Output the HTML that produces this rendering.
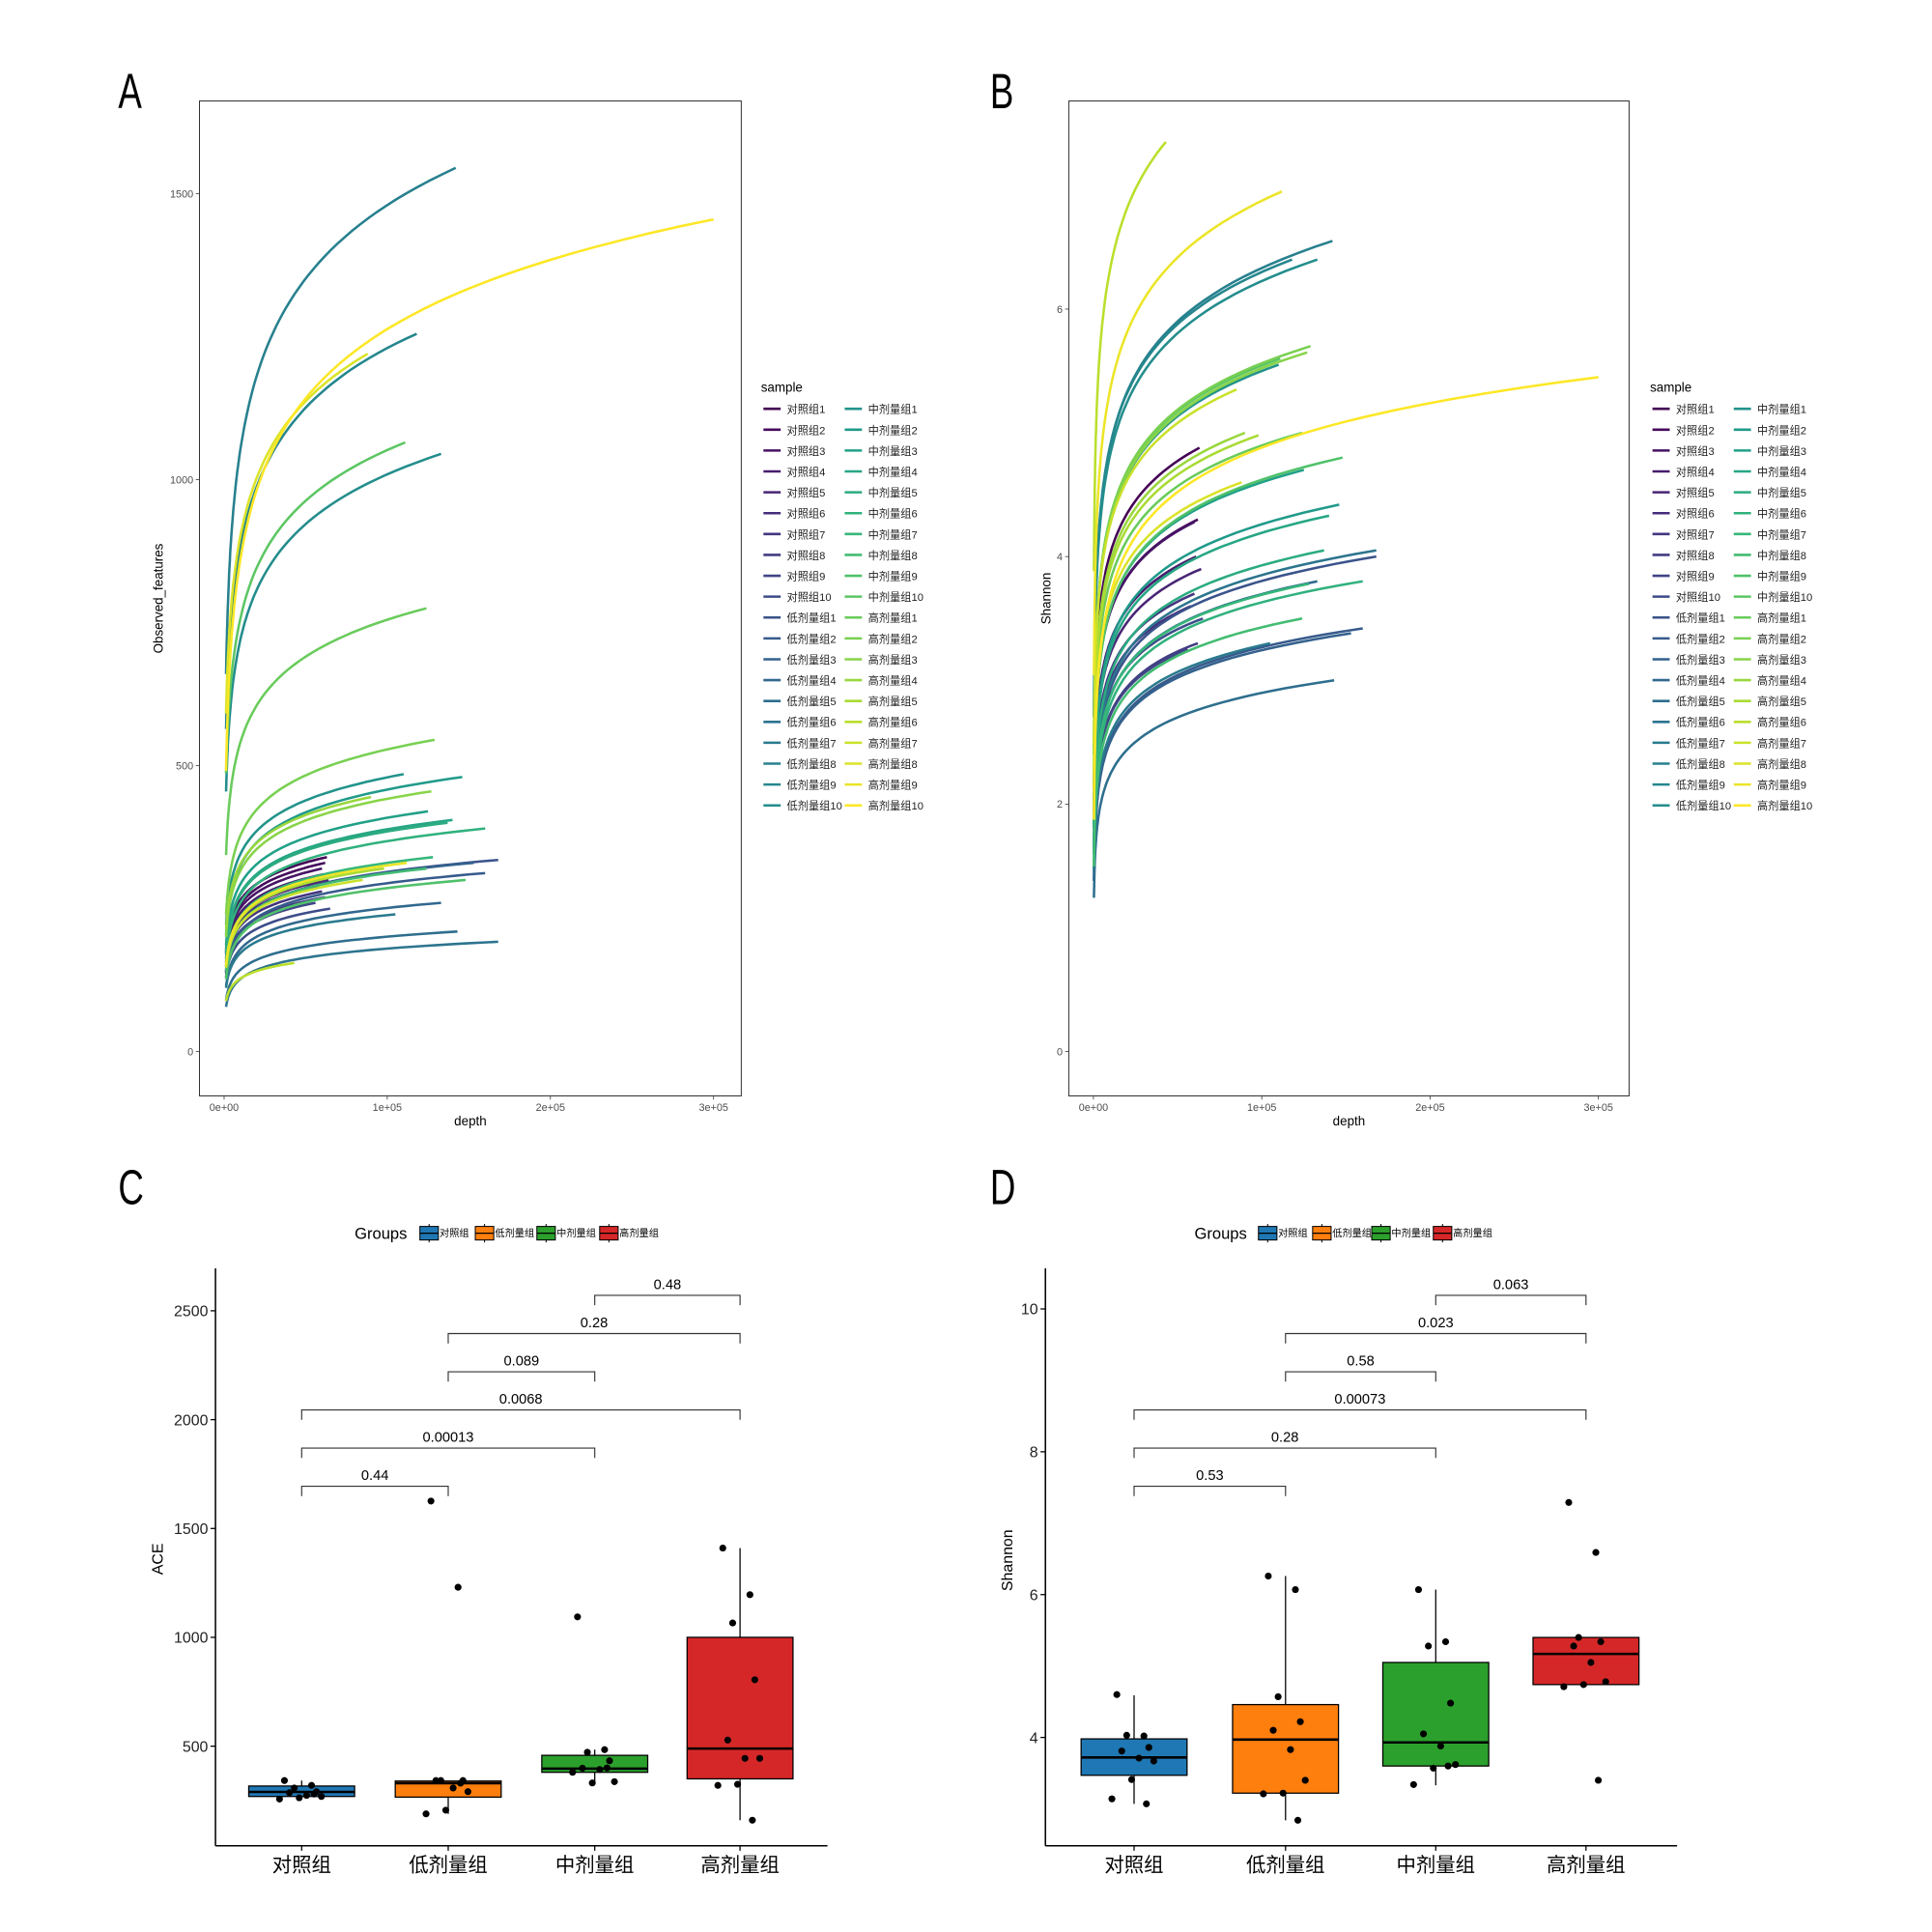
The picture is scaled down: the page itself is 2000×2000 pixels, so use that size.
<!DOCTYPE html>
<html><head><meta charset="utf-8"><style>
html,body{margin:0;padding:0;background:#fff;}
svg{display:block;font-family:"Liberation Sans","Noto Sans CJK SC",sans-serif;}
</style></head><body>
<svg id="fig" width="2000" height="2000" viewBox="0 0 1569 1569" xmlns="http://www.w3.org/2000/svg">
<rect width="1569" height="1569" fill="#fff"/>
<g id="A"></g>
<g id="B"></g>
<g id="C"></g>
<g id="D"></g>
</svg>
<script>
// ---- rarefaction data (40 samples) ----
const groupNames = ["对照组","低剂量组","中剂量组","高剂量组"];
const sampleDepth = [0.63,0.62,0.6,0.61,0.64,0.58,0.6,0.62,0.56,0.65,
  1.68,1.6,1.53,1.33,1.43,1.68,1.05,1.42,1.18,1.33,
  1.1,1.46,1.25,1.4,1.37,1.6,1.28,1.24,1.48,1.11,
  1.24,1.29,1.27,0.9,0.98,0.43,0.85,0.88,1.12,3.0];
const observedEnd = [340,330,320,310,300,290,280,270,260,250,
  335,312,330,260,210,192,240,1545,1255,1045,
  485,480,420,405,400,390,340,320,300,1065,
  775,545,455,445,320,155,300,1220,330,1455];
const shannonEnd = [4.88,4.3,4.28,4.0,3.9,3.6,3.7,3.3,3.25,3.5,
  4.0,3.42,3.38,3.8,3.0,4.05,3.3,6.55,6.4,6.4,
  5.55,4.42,4.7,4.33,4.05,3.8,3.78,3.5,4.8,5.6,
  5.0,5.7,5.65,5.0,4.98,7.35,5.35,4.6,6.95,5.45];
const xTicks = [0,1,2,3];
const xTickLabels = ["0e+00","1e+05","2e+05","3e+05"];
const obsTicks = [0,500,1000,1500];
const shanTicks = [0,2,4,6];
// ---- box plot data ----
const aceCtrl=[342,320,308,291,286,274,269,263,257,280];
const aceLow=[1626,1230,342,342,342,308,291,206,189,330];
const aceMid=[1094,484,472,433,399,393,337,331,380,400];
const aceHigh=[1410,1196,1066,805,528,444,444,325,320,160];
const shCtrl=[4.60,4.02,4.03,3.86,3.81,3.71,3.67,3.41,3.14,3.07];
const shLow=[6.26,6.07,4.57,4.22,4.10,3.83,3.40,3.22,3.21,2.84];
const shMid=[6.07,5.34,5.28,4.48,4.05,3.88,3.62,3.57,3.34,3.6];
const shHigh=[7.29,6.59,5.40,5.34,5.28,5.05,4.78,4.74,4.71,3.40];
const aceBox=[[269,290,317,257,342],[266,330,340,189,342],[380,397,458,331,484],[350,489,1000,160,1410]];
const shBox=[[3.47,3.72,3.98,3.07,4.59],[3.22,3.97,4.46,2.84,6.26],[3.60,3.93,5.05,3.33,6.07],[4.74,5.17,5.40,4.71,5.40]];
const aceTicks=[500,1000,1500,2000,2500];
const shTicks=[4,6,8,10];
const aceP=["0.48","0.28","0.089","0.0068","0.00013","0.44"];
const shP=["0.063","0.023","0.58","0.00073","0.28","0.53"];
const pairs=[[2,3],[1,3],[1,2],[0,3],[0,2],[0,1]];
const boxColors=["#1F78B4","#FF7F0E","#2CA02C","#D62728"];

const NS="http://www.w3.org/2000/svg";
function mk(p,tag,attrs,txt){const e=document.createElementNS(NS,tag);for(const k in attrs)e.setAttribute(k,attrs[k]);if(txt!==undefined)e.textContent=txt;p.appendChild(e);return e;}
const vir=["#440154","#482878","#3E4A89","#31688E","#26828E","#1F9E89","#35B779","#6DCD59","#B4DE2C","#FDE725"];
function hx(c){return [1,3,5].map(i=>parseInt(c.substr(i,2),16));}
function viridis(t){const f=t*9,i=Math.min(8,Math.floor(f)),u=f-i;const a=hx(vir[i]),b=hx(vir[i+1]);return "rgb("+a.map((v,k)=>Math.round(v+(b[k]-v)*u)).join(",")+")";}
function sname(i){return groupNames[Math.floor(i/10)]+(i%10+1);}
function letter(g,x,y,t){const e=mk(g,"text",{x:0,y:0,"font-size":40,transform:`translate(${x},${y}) scale(0.72,1)`},t);
  }

function rarePanel(g,o){
  const {x0,x1,y0,y1,xs,ys,ends,c,d0,ticks,ylab,lx,letterX}=o;
  letter(g,letterX,88,o.letter);
  mk(g,"rect",{x:x0,y:y0,width:x1-x0,height:y1-y0,fill:"none",stroke:"#333","stroke-width":0.8});
  xTicks.forEach((t,i)=>{const x=xs(t);mk(g,"line",{x1:x,x2:x,y1:y1,y2:y1+3,stroke:"#333","stroke-width":0.6});
    const tl=mk(g,"text",{x:x,y:y1+12,"font-size":8.5,fill:"#4d4d4d","text-anchor":"middle"},xTickLabels[i]);
    });
  ticks.forEach(t=>{const y=ys(t);mk(g,"line",{x1:x0-3,x2:x0,y1:y,y2:y,stroke:"#333","stroke-width":0.6});
    const tl=mk(g,"text",{x:x0-5,y:y+3,"font-size":8.5,fill:"#4d4d4d","text-anchor":"end"},t);
    });
  const xt=mk(g,"text",{x:(x0+x1)/2,y:y1+24,"font-size":10.5,"text-anchor":"middle"},"depth");
  
  const yt=mk(g,"text",{x:0,y:0,"font-size":10.5,"text-anchor":"middle",transform:`translate(${o.ylx},${(y0+y1)/2}) rotate(-90)`},ylab);
  
  for(let i=0;i<40;i++){
    const D=sampleDepth[i],E=ends[i];let d="";
    for(let k=0;k<=80;k++){const dep=d0*Math.pow(D/d0,k/80);const v=E*(1-c*Math.log(D/dep));d+=(k?"L":"M")+xs(dep).toFixed(1)+","+ys(v).toFixed(1);}
    const pa=mk(g,"path",{d:d,fill:"none",stroke:viridis(i/39),"stroke-width":2});
    
  }
  const lt=mk(g,"text",{x:lx,y:318,"font-size":10.5},"sample");
  
  for(let i=0;i<40;i++){
    const col=Math.floor(i/20),r=i%20,y=332+r*16.95,bx=lx+2+col*66;
    mk(g,"line",{x1:bx,x2:bx+14,y1:y,y2:y,stroke:viridis(i/39),"stroke-width":2});
    const t=mk(g,"text",{x:bx+19,y:y+3.5,"font-size":8.8,fill:"#222"},sname(i));
    
  }
}
rarePanel(document.getElementById("A"),{letter:"A",letterX:96,x0:162,x1:602,y0:82,y1:890,xs:v=>182+v*132.5,ys:v=>854-v*0.4645,ends:observedEnd,c:0.12,d0:0.012,ticks:obsTicks,ylab:"Observed_features",ylx:132,lx:618});
rarePanel(document.getElementById("B"),{letter:"B",letterX:804,x0:868,x1:1323,y0:82,y1:890,xs:v=>888+v*136.7,ys:v=>854-v*100.5,ends:shannonEnd,c:0.095,d0:0.003,ticks:shanTicks,ylab:"Shannon",ylx:853,lx:1340});

function boxPanel(g,o){
  const {ax,x1,ys,cats,pts,box,ticks,pv,ylab,letterX,legX}=o;
  letter(g,letterX,978,o.letter);
  const lg=mk(g,"text",{x:legX,y:1006,"font-size":13},"Groups");
  
  for(let i=0;i<4;i++){const bx=o.legKeys[i];
    mk(g,"line",{x1:bx+7.5,x2:bx+7.5,y1:994,y2:1009,stroke:"#000","stroke-width":0.8});
    mk(g,"rect",{x:bx,y:996,width:15,height:11,fill:boxColors[i],stroke:"#000","stroke-width":0.8});
    mk(g,"line",{x1:bx,x2:bx+15,y1:1001.5,y2:1001.5,stroke:"#000","stroke-width":1});
    const t=mk(g,"text",{x:bx+16,y:1004,"font-size":8},groupNames[i]);
    }
  mk(g,"line",{x1:ax,x2:ax,y1:1030,y2:1499,stroke:"#000","stroke-width":1.2});
  mk(g,"line",{x1:ax,x2:x1,y1:1499,y2:1499,stroke:"#000","stroke-width":1.2});
  ticks.forEach(t=>{const y=ys(t);mk(g,"line",{x1:ax-4,x2:ax,y1:y,y2:y,stroke:"#000","stroke-width":1});
    const tl=mk(g,"text",{x:ax-6,y:y+4.5,"font-size":12.5,fill:"#222","text-anchor":"end"},t);
    });
  const yt=mk(g,"text",{x:0,y:0,"font-size":12.5,"text-anchor":"middle",transform:`translate(${o.ylx},${ys(o.ylabV)}) rotate(-90)`},ylab);
  
  const jit=[-14,8,-6,12,-10,4,16,-2,-18,10];
  for(let i=0;i<4;i++){
    const cx=cats[i],b=box[i],w=43;
    mk(g,"line",{x1:cx,x2:cx,y1:ys(b[3]),y2:ys(b[0]),stroke:"#000","stroke-width":1});
    mk(g,"line",{x1:cx,x2:cx,y1:ys(b[2]),y2:ys(b[4]),stroke:"#000","stroke-width":1});
    const r=mk(g,"rect",{x:cx-w,y:ys(b[2]),width:2*w,height:ys(b[0])-ys(b[2]),fill:boxColors[i],stroke:"#000","stroke-width":1});
    
    mk(g,"line",{x1:cx-w,x2:cx+w,y1:ys(b[1]),y2:ys(b[1]),stroke:"#000","stroke-width":2});
    pts[i].forEach((v,k)=>{const c=mk(g,"circle",{cx:cx+jit[k],cy:ys(v),r:2.8,fill:"#000"});
      });
    mk(g,"line",{x1:cx,x2:cx,y1:1499,y2:1503,stroke:"#000","stroke-width":1});
    const cl=mk(g,"text",{x:cx,y:1520,"font-size":16,"text-anchor":"middle"},groupNames[i]);
    
  }
  pairs.forEach((pr,k)=>{const y=1052+k*31,a=cats[pr[0]],b=cats[pr[1]];
    mk(g,"path",{d:`M${a},${y+8}V${y}H${b}V${y+8}`,fill:"none",stroke:"#333","stroke-width":0.9});
    const t=mk(g,"text",{x:(a+b)/2,y:y-5,"font-size":11.5,"text-anchor":"middle"},pv[k]);
    });
}
boxPanel(document.getElementById("C"),{letter:"C",letterX:96,ax:175,x1:672,ys:v=>1506.5-v*0.1768,cats:[245,364,483,601],pts:[aceCtrl,aceLow,aceMid,aceHigh],box:aceBox,ticks:aceTicks,pv:aceP,ylab:"ACE",ylx:132,ylabV:1360,legX:288,legKeys:[341,386,436,487]});
boxPanel(document.getElementById("D"),{letter:"D",letterX:804,ax:849,x1:1362,ys:v=>1643-v*58,cats:[921,1044,1166,1288],pts:[shCtrl,shLow,shMid,shHigh],box:shBox,ticks:shTicks,pv:shP,ylab:"Shannon",ylx:822,ylabV:6.48,legX:970,legKeys:[1022,1066,1114,1164]});
</script>
</body></html>
